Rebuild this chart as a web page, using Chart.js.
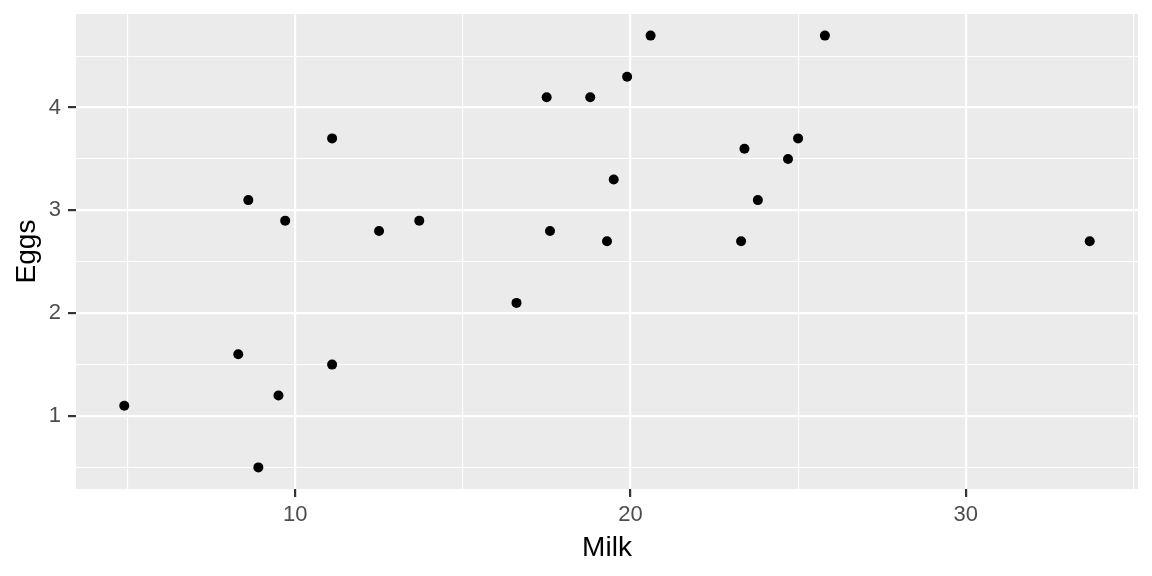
<!DOCTYPE html>
<html lang="en">
<head>
    <meta charset="UTF-8">
    <title>Eggs vs Milk</title>
    <script src="https://cdn.jsdelivr.net/npm/chart.js@4.4.1/dist/chart.umd.min.js"></script>
    <style>
        html, body { margin: 0; padding: 0; background: #fff; }
        .chart-container { position: relative; width: 1152px; height: 576px; }
    </style>
</head>
<body>
    <div class="chart-container">
        <canvas id="scatterChart"></canvas>
    </div>
    <script>
        // protein consumption per country: milk vs eggs
        const milk = [8.9, 19.9, 17.5, 8.3, 12.5, 25.0, 11.1, 33.7, 19.5, 17.6, 9.7, 25.8, 13.7,
                      23.4, 23.3, 19.3, 4.9, 11.1, 8.6, 24.7, 23.8, 20.6, 16.6, 18.8, 9.5];
        const eggs = [0.5, 4.3, 4.1, 1.6, 2.8, 3.7, 3.7, 2.7, 3.3, 2.8, 2.9, 4.7, 2.9,
                      3.6, 2.7, 2.7, 1.1, 1.5, 3.1, 3.5, 3.1, 4.7, 2.1, 4.1, 1.2];

        const xMajor = [10, 20, 30];
        const xMinor = [5, 15, 25, 35];
        const yMajor = [1, 2, 3, 4];
        const yMinor = [0.5, 1.5, 2.5, 3.5, 4.5];

        const font = "'Liberation Sans', Arial, sans-serif";

        // ggplot-style 5% expansion around the data range
        function expand(vals) {
            const lo = Math.min(...vals), hi = Math.max(...vals);
            const pad = (hi - lo) * 0.05;
            return [lo - pad, hi + pad];
        }
        const [xMin, xMax] = expand(milk);
        const [yMin, yMax] = expand(eggs);

        const panelBg = {
            id: 'panelBg',
            beforeDraw(chart) {
                const { ctx, chartArea: a } = chart;
                ctx.save();
                ctx.fillStyle = '#EBEBEB';
                ctx.fillRect(a.left, a.top, a.right - a.left, a.bottom - a.top);
                ctx.restore();
            }
        };

        function setTicks(majors, minors) {
            return function(scale) {
                scale.ticks = majors.concat(minors).sort((a, b) => a - b).map(v => ({ value: v }));
            };
        }

        function gridOpts(majors) {
            return {
                color: '#FFFFFF',
                lineWidth: ctx => majors.includes(ctx.tick.value) ? 2.2 : 1.1,
                tickColor: ctx => majors.includes(ctx.tick.value) ? '#333333' : 'rgba(0,0,0,0)',
                tickWidth: 2.2,
                tickLength: 8,
                drawOnChartArea: true
            };
        }

        new Chart(document.getElementById('scatterChart').getContext('2d'), {
            type: 'scatter',
            data: {
                datasets: [{
                    data: milk.map((m, i) => ({ x: m, y: eggs[i] })),
                    backgroundColor: '#000000',
                    borderWidth: 0,
                    pointRadius: 5,
                    pointHoverRadius: 5
                }]
            },
            options: {
                responsive: true,
                maintainAspectRatio: false,
                animation: false,
                layout: { padding: { left: 0, top: 14, right: 14, bottom: 0 } },
                plugins: {
                    legend: { display: false },
                    tooltip: { enabled: false }
                },
                scales: {
                    x: {
                        type: 'linear',
                        min: xMin,
                        max: xMax,
                        afterBuildTicks: setTicks(xMajor, xMinor),
                        afterFit: s => { s.height = 87; s.paddingLeft = 0; s.paddingRight = 0; },
                        grid: gridOpts(xMajor),
                        border: { display: false },
                        ticks: {
                            autoSkip: false,
                            maxRotation: 0,
                            padding: 5,
                            color: '#4D4D4D',
                            font: { family: font, size: 22 },
                            callback: v => xMajor.includes(v) ? String(v) : ''
                        },
                        title: {
                            display: true,
                            text: 'Milk',
                            color: '#000000',
                            font: { family: font, size: 28 },
                            padding: { top: 0, bottom: 11 }
                        }
                    },
                    y: {
                        type: 'linear',
                        min: yMin,
                        max: yMax,
                        afterBuildTicks: setTicks(yMajor, yMinor),
                        afterFit: s => { s.width = 76; s.paddingTop = 0; s.paddingBottom = 0; },
                        grid: gridOpts(yMajor),
                        border: { display: false },
                        ticks: {
                            autoSkip: false,
                            padding: 7,
                            color: '#4D4D4D',
                            font: { family: font, size: 22 },
                            callback: v => yMajor.includes(v) ? String(v) : ''
                        },
                        title: {
                            display: true,
                            text: 'Eggs',
                            color: '#000000',
                            font: { family: font, size: 28 },
                            padding: { top: 10, bottom: 0 }
                        }
                    }
                }
            },
            plugins: [panelBg]
        });
    </script>
</body>
</html>
